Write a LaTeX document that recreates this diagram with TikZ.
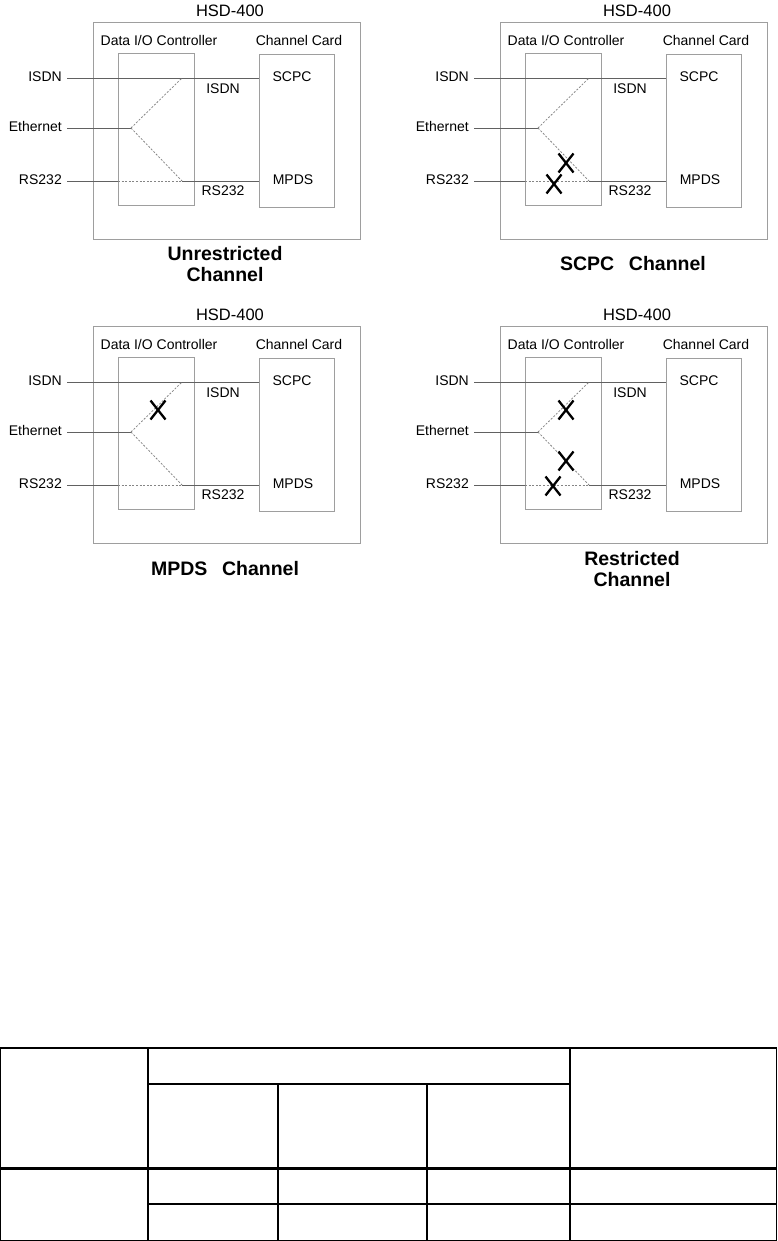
\documentclass[tikz,border=0pt]{standalone}
\usepackage{fontspec}
\setmainfont{Liberation Sans}
\tikzset{
  box/.style={draw=black!38, line width=0.9pt, inner sep=0pt, anchor=north west},
  wire/.style={draw=black!62, line width=0.75pt},
  dwire/.style={draw=black!48, line width=0.75pt, dash pattern=on 2pt off 1.6pt},
  lbl/.style={inner sep=0pt, text height=.72em, text depth=0pt, font=\fontsize{14}{16}\selectfont},
  hsd/.style={lbl, font=\fontsize{16.5}{19}\selectfont},
  ttl/.style={inner sep=0pt, text height=.72em, text depth=0pt, font=\fontsize{19.5}{22}\selectfont\bfseries},
  xline/.style={draw=black, line width=2.3pt},
  tline/.style={draw=black, line width=1.3pt},
  thick line/.style={draw=black, line width=3pt},
  panel/.pic={
    \node[hsd] (-hsd) at (230,13) {HSD-400};
    \node[box, minimum width=267.3pt, minimum height=217.3pt] (-outer) at (92.7,21.7) {};
    \node[lbl] (-dio) at (159,41.5) {Data I/O Controller};
    \node[lbl] (-cc) at (299,41.5) {Channel Card};
    \node[box, minimum width=76pt, minimum height=152pt] (-ctrl) at (118,53) {};
    \node[box, minimum width=75pt, minimum height=153pt] (-card) at (259,54) {};
    \node[lbl, anchor=east] (-isdn) at (62,78) {ISDN};
    \node[lbl, anchor=east] (-eth) at (62,128) {Ethernet};
    \node[lbl, anchor=east] (-rs) at (62,181) {RS232};
    \node[lbl] (-scpc) at (292,78) {SCPC};
    \node[lbl] (-mpds) at (293,181) {MPDS};
    \node[lbl] (-isdn2) at (223,89.5) {ISDN};
    \node[lbl] (-rs2) at (223,191.5) {RS232};
    \coordinate (-iL) at (67,78);
    \coordinate (-iR) at (259,78);
    \coordinate (-eL) at (67,128);
    \coordinate (-br) at (131,128);
    \coordinate (-bi) at (182,78);
    \coordinate (-bs) at (182,181);
    \coordinate (-rL) at (67,181);
    \coordinate (-rM) at (118,181);
    \coordinate (-rR) at (259,181);
    \draw[wire] (-iL) -- (-iR);
    \draw[wire] (-eL) -- (-br);
    \draw[dwire] (-br) -- (-bi);
    \draw[dwire] (-br) -- (-bs);
    \draw[wire] (-rL) -- (-rM);
    \draw[dwire] (-rM) -- (-bs);
    \draw[wire] (-bs) -- (-rR);
  },
  xc/.pic={
    \draw[xline] (-7.5,-9.5) -- (7.5,9.5);
    \draw[xline] (-7.5,9.5) -- (7.5,-9.5);
  }
}
\begin{document}
\begin{tikzpicture}[x=1pt,y=-1pt]
  \useasboundingbox[fill=white] (0,0) rectangle (777,1241);
  % panels
  \pic (p1) at (0,0) {panel};
  \pic (p2) at (407,0) {panel};
  \pic (p3) at (0,304) {panel};
  \pic (p4) at (407,304) {panel};
  % crosses
  \pic (x21) at (566,163) {xc};
  \pic (x22) at (554,184) {xc};
  \pic (x31) at (158,410) {xc};
  \pic (x41) at (566,410) {xc};
  \pic (x42) at (566,461) {xc};
  \pic (x43) at (553,486) {xc};
  % titles
  \node[ttl] (t1a) at (225,257) {Unrestricted};
  \node[ttl] (t1b) at (225,278) {Channel};
  \node[ttl] (t2) at (633,267) {SCPC\hspace{0.75em}Channel};
  \node[ttl] (t3) at (225,572) {MPDS\hspace{0.75em}Channel};
  \node[ttl] (t4a) at (632,562) {Restricted};
  \node[ttl] (t4b) at (632,583) {Channel};
  % table
  \draw[tline] (0.7,1048) rectangle (776.3,1240.3);
  \draw[tline] (148,1048) -- (148,1240.3);
  \draw[tline] (570,1048) -- (570,1240.3);
  \draw[tline] (148,1084) -- (570,1084);
  \draw[tline] (278,1084) -- (278,1240.3);
  \draw[tline] (427,1084) -- (427,1240.3);
  \draw[thick line] (0,1168) -- (777,1168);
  \draw[tline] (148,1204) -- (776.3,1204);
\end{tikzpicture}
\end{document}
